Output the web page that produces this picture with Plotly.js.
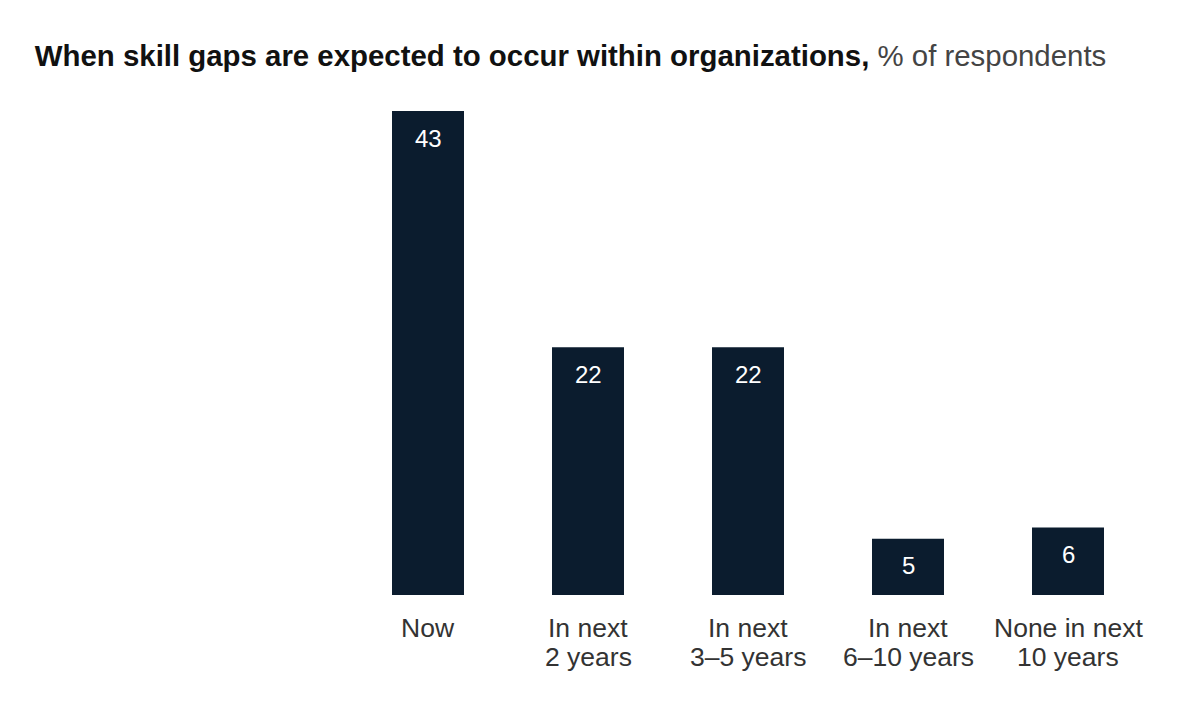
<!DOCTYPE html>
<html>
<head>
<meta charset="utf-8">
<script src="https://cdn.plot.ly/plotly-3.0.1.min.js"></script>
<style>html,body{margin:0;padding:0;background:#fff;}#chart{width:1200px;height:719px;}</style>
</head>
<body>
<div id="chart"></div>
<script>
var categories = ["Now", "In next<br>2 years", "In next<br>3–5 years", "In next<br>6–10 years", "None in next<br>10 years"];
var values = [43, 22, 22, 5, 6];

var FONT = "Liberation Sans, Arial, Helvetica, sans-serif";

var annotations = [];
values.forEach(function (v, i) {
  annotations.push({
    x: categories[i], y: v, xref: "x", yref: "y",
    text: String(v), showarrow: false,
    yanchor: "middle", yshift: -27,
    font: {family: FONT, size: 24, color: "#ffffff"}
  });
});
// category labels, one annotation per line so the line spacing can match
categories.forEach(function (c) {
  c.split("<br>").forEach(function (line, j) {
    annotations.push({
      x: c, y: 0, xref: "x", yref: "paper",
      text: line, showarrow: false,
      yanchor: "middle", yshift: -33 - 29 * j,
      font: {family: FONT, size: 26.5, color: "#333333"}
    });
  });
});

var data = [{
  type: "bar",
  x: categories,
  y: values,
  marker: {color: "#0b1c2e"},
  hoverinfo: "x+y"
}];

var layout = {
  width: 1200, height: 719,
  paper_bgcolor: "#ffffff", plot_bgcolor: "#ffffff",
  margin: {l: 348, r: 52, t: 111, b: 124},
  bargap: 0.55,
  showlegend: false,
  title: {
    text: "<b>When skill gaps are expected to occur within organizations,</b> <span style='color:#444'>% of respondents</span>",
    x: 0.029, xref: "container", xanchor: "left",
    y: 0.923, yref: "container", yanchor: "middle",
    font: {family: FONT, size: 29.4, color: "#111111"}
  },
  xaxis: {
    showgrid: false, showline: false, zeroline: false, ticks: "",
    showticklabels: false,
    fixedrange: true
  },
  yaxis: {
    range: [0, 43], visible: false, showgrid: false, zeroline: false, fixedrange: true
  },
  annotations: annotations
};

Plotly.newPlot("chart", data, layout, {displayModeBar: false, staticPlot: true});
</script>
</body>
</html>
